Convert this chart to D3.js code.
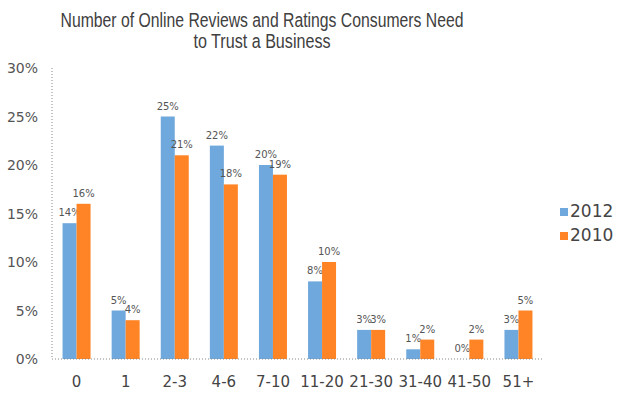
<!DOCTYPE html>
<html>
<head>
<meta charset="utf-8">
<title>Online Reviews</title>
<style>
  * { margin: 0; padding: 0 }
  body { background: #fff; }
  text { font-family: "DejaVu Sans", sans-serif; }
</style>
</head>
<body>
<svg id="chart" width="620" height="394"></svg>
<script src="https://cdn.jsdelivr.net/npm/d3@7"></script>
<script>
const categories = ["0", "1", "2-3", "4-6", "7-10", "11-20", "21-30", "31-40", "41-50", "51+"];
const values2012 = [14, 5, 25, 22, 20, 8, 3, 1, 0, 3];
const values2010 = [16, 4, 21, 18, 19, 10, 3, 2, 2, 5];
const yTicks = [0, 5, 10, 15, 20, 25, 30];
const seriesNames = ["2012", "2010"];
const colors = ["#6FA8DC", "#FF8426"];

const svg = d3.select("#chart");
const plot = { left: 52, right: 543, top: 68, bottom: 359 };

const x = d3.scaleBand().domain(categories).range([plot.left, plot.right]);
const y = d3.scaleLinear().domain([0, 30]).range([plot.bottom, plot.top]);
const barW = 14;

// title - condensed look via textLength
const titleLines = [
  { t: "Number of Online Reviews and Ratings Consumers Need", y: 27, w: 403 },
  { t: "to Trust a Business", y: 48, w: 137 }
];
svg.append("g").selectAll("text").data(titleLines).join("text")
  .attr("x", 262).attr("y", d => d.y)
  .attr("text-anchor", "middle")
  .attr("fill", "#404040")
  .attr("textLength", d => d.w)
  .attr("lengthAdjust", "spacingAndGlyphs")
  .style("font-family", "'Liberation Sans', Arial, sans-serif")
  .style("font-size", "20.5px")
  .text(d => d.t);

// y axis labels
svg.append("g").selectAll("text").data(yTicks).join("text")
  .attr("x", 38).attr("y", d => y(d) + 5)
  .attr("text-anchor", "end")
  .attr("fill", "#555")
  .style("font-size", "14px")
  .text(d => d + "%");

// dotted axes
svg.append("line").attr("x1", plot.left).attr("x2", plot.left).attr("y1", plot.top).attr("y2", plot.bottom)
  .attr("stroke", "#888").attr("stroke-dasharray", "1,2");

// bars
const series = [values2012, values2010];
series.forEach((vals, s) => {
  const g = svg.append("g");
  g.selectAll("rect").data(vals).join("rect")
    .attr("x", (d, i) => x(categories[i]) + x.bandwidth() / 2 - barW + s * barW)
    .attr("y", d => y(d))
    .attr("width", barW)
    .attr("height", d => plot.bottom - y(d))
    .attr("fill", colors[s]);
  g.selectAll("text").data(vals).join("text")
    .attr("x", (d, i) => x(categories[i]) + x.bandwidth() / 2 - barW + s * barW + barW / 2)
    .attr("y", d => y(d) - 7)
    .attr("text-anchor", "middle")
    .attr("fill", "#555")
    .style("font-size", "10px")
    .text(d => d + "%");
});

svg.append("line").attr("x1", plot.left).attr("x2", plot.right).attr("y1", plot.bottom).attr("y2", plot.bottom)
  .attr("stroke", "#888").attr("stroke-dasharray", "1,2");

// x labels
svg.append("g").selectAll("text").data(categories).join("text")
  .attr("x", d => x(d) + x.bandwidth() / 2)
  .attr("y", 387)
  .attr("text-anchor", "middle")
  .attr("fill", "#444")
  .style("font-size", "15px")
  .text(d => d);

// legend
const legend = svg.append("g");
seriesNames.forEach((name, i) => {
  legend.append("rect").attr("x", 560).attr("y", 208 + i * 24).attr("width", 8).attr("height", 8).attr("fill", colors[i]);
  legend.append("text").attr("x", 570).attr("y", 217 + i * 24)
    .attr("fill", "#444").style("font-size", "17px").text(name);
});
</script>
</body>
</html>
